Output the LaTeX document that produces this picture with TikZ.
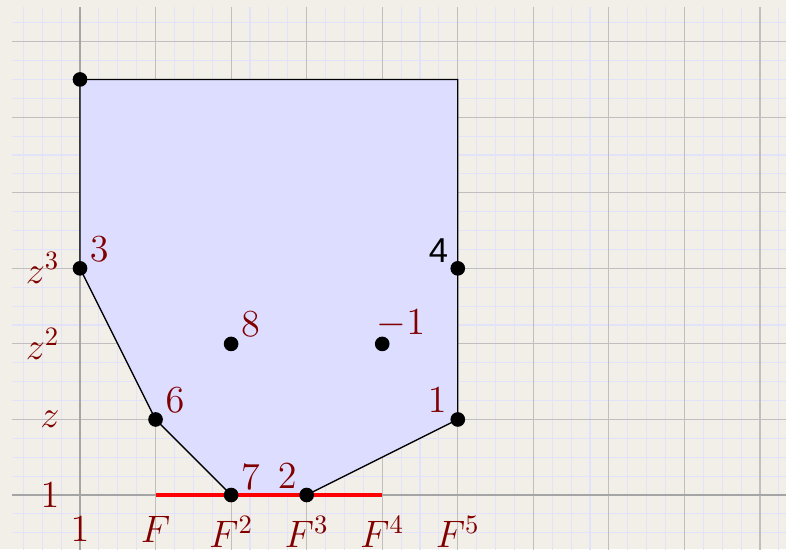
\documentclass[tikz,border=0pt]{standalone}
\usepackage{fontspec}
\newfontfamily\labsans{Liberation Sans}
\definecolor{bgc}{RGB}{242,238,232}
\definecolor{minorc}{RGB}{226,226,250}
\definecolor{majorc}{RGB}{192,190,190}
\definecolor{axisc}{RGB}{165,165,165}
\definecolor{polyfill}{RGB}{221,221,255}
\definecolor{labc}{RGB}{128,0,0}
\begin{document}
\begin{tikzpicture}[x=1cm,y=1cm,
  dotnode/.style={circle,fill=black,inner sep=0pt,minimum size=0.194cm},
  lab/.style={text=labc,inner sep=0pt,font=\fontsize{14.4}{17}\selectfont},
  sanslab/.style={text=black,inner sep=0pt,font=\labsans\fontsize{13}{15}\selectfont},
  minorgrid/.style={draw=minorc,line width=0.4pt},
  majorgrid/.style={draw=majorc,line width=0.4pt},
  axisline/.style={draw=axisc,line width=0.65pt},
  poly/.style={fill=polyfill,draw=black,line width=0.5pt},
  redseg/.style={draw=red,line width=1.5pt}]
\path[fill=bgc] (-1.059,-0.715) rectangle (9.344,6.552);
\useasboundingbox (-1.059,-0.715) rectangle (9.344,6.552);
\begin{scope}
\clip (-1.059,-0.715) rectangle (9.344,6.552);
\draw[minorgrid,step=0.25] (-0.9,-0.9) grid (9.5,6.46);
\draw[majorgrid,step=1] (-0.9,-0.9) grid (9.5,6.46);
\coordinate (axl) at (-0.9,0);
\coordinate (axr) at (9.5,0);
\coordinate (ayb) at (0,-0.9);
\coordinate (ayt) at (0,6.46);
\draw[axisline] (axl) -- (axr);
\draw[axisline] (ayb) -- (ayt);
\end{scope}
% polygon vertices
\coordinate (p1) at (0,5.5);
\coordinate (p2) at (5,5.5);
\coordinate (p3) at (5,3);
\coordinate (p4) at (5,1);
\coordinate (p5) at (3,0);
\coordinate (p6) at (2,0);
\coordinate (p7) at (1,1);
\coordinate (p8) at (0,3);
\filldraw[poly] (p1) -- (p2) -- (p3) -- (p4) -- (p5) -- (p6) -- (p7) -- (p8) -- cycle;
\coordinate (r1) at (1,0);
\coordinate (r2) at (4,0);
\draw[redseg] (r1) -- (r2);
% dots
\node[dotnode] (dA) at (p1) {};
\node[dotnode] (d3) at (p8) {};
\node[dotnode] (d6) at (p7) {};
\node[dotnode] (d7) at (p6) {};
\node[dotnode] (d2) at (p5) {};
\node[dotnode] (d1) at (p4) {};
\node[dotnode] (d4) at (p3) {};
\node[dotnode] (d8) at (2,2) {};
\node[dotnode] (dm) at (4,2) {};
% point labels
\node[lab,anchor=base west,xshift=0.125cm,yshift=0.085cm] (l3) at (d3.center) {$3$};
\node[lab,anchor=base west,xshift=0.125cm,yshift=0.09cm] (l6) at (d6.center) {$6$};
\node[lab,anchor=base west,xshift=0.125cm,yshift=0.1cm] (l8) at (d8.center) {$8$};
\node[lab,anchor=base west,xshift=0.125cm,yshift=0.075cm] (l7) at (d7.center) {$7$};
\node[lab,anchor=base east,xshift=-0.125cm,yshift=0.08cm] (l2) at (d2.center) {$2$};
\node[lab,anchor=base east,xshift=-0.14cm,yshift=0.09cm] (l1) at (d1.center) {$1$};
\node[lab,anchor=base west,xshift=-0.08cm,yshift=0.12cm] (lm) at (dm.center) {$-1$};
\node[sanslab,anchor=base east,xshift=-0.12cm,yshift=0.08cm] (l4) at (d4.center) {4};
% x axis labels
\node[lab,anchor=north] (x0) at (0,-0.278) {$1$};
\node[lab,anchor=north] (x1) at (1,-0.278) {$F$};
\node[lab,anchor=north] (x2) at (2,-0.278) {$F^2$};
\node[lab,anchor=north] (x3) at (3,-0.278) {$F^3$};
\node[lab,anchor=north] (x4) at (4,-0.278) {$F^4$};
\node[lab,anchor=north] (x5) at (5,-0.278) {$F^5$};
% y axis labels
\node[lab,anchor=east] (y0) at (-0.265,0) {$1$};
\node[lab,anchor=east] (y1) at (-0.265,1) {$z$};
\node[lab,anchor=east] (y2) at (-0.265,2) {$z^2$};
\node[lab,anchor=east] (y3) at (-0.265,3) {$z^3$};
\end{tikzpicture}
\end{document}
